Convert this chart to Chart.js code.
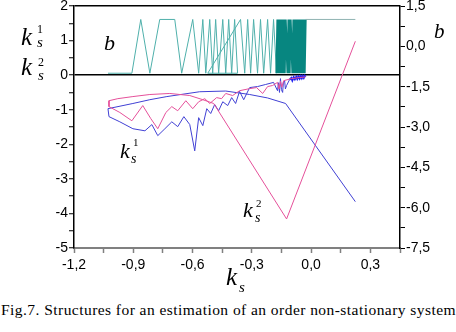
<!DOCTYPE html>
<html>
<head>
<meta charset="utf-8">
<script src="https://cdn.jsdelivr.net/npm/chart.js@4.4.1/dist/chart.umd.min.js"></script>
<style>
  body { margin: 0; background: #fff; }
  #wrap { position: relative; width: 456px; height: 332px; overflow: hidden; font-family: "Liberation Serif", serif; color: #000; }
  #chart { position: absolute; left: 0; top: 0; }
  .lbl { position: absolute; line-height: 1; white-space: nowrap; }
  #caption { position: absolute; left: 1px; top: 302px; font-size: 15.5px; letter-spacing: 0.45px; line-height: 1; white-space: nowrap; }
</style>
</head>
<body>
<div id="wrap">
  <canvas id="chart" width="456" height="280"></canvas>
  <div id="caption">Fig.7. Structures for an estimation of an order non-stationary system</div>
</div>
<script>
// k_s^1 estimate (blue), k_s against k_s^1
const blueX = [0.224, -0.129, -0.220, -0.311, -0.432, -0.564, -0.730, -0.816, -0.902, -1.028,
    -1.023, -0.968, -0.902, -0.841, -0.806, -0.776, -0.740, -0.705, -0.675, -0.644,
    -0.614, -0.589, -0.569, -0.548, -0.528, -0.508, -0.488, -0.468, -0.447, -0.422,
    -0.402, -0.382, -0.362, -0.341, -0.311, -0.271, -0.230, -0.190, -0.170, -0.165,
    -0.160, -0.155, -0.150, -0.144, -0.140, -0.134, -0.130, -0.124, -0.109, -0.100,
    -0.095, -0.088, -0.082, -0.075, -0.070, -0.064, -0.058, -0.052, -0.047, -0.042,
    -0.037, -0.032, -0.028];
const blueY = [-3.66, -0.82, -0.66, -0.56, -0.46, -0.48, -0.62, -0.71, -0.82, -0.97,
    -1.20, -1.35, -1.55, -1.61, -1.43, -1.75, -1.55, -1.35, -1.49, -1.20,
    -1.43, -2.19, -1.23, -1.46, -0.97, -1.11, -0.85, -1.03, -0.77, -0.88,
    -0.65, -0.82, -0.47, -0.71, -0.36, -0.33, -0.27, -0.21, -0.45, -0.22,
    -0.50, -0.10, -0.42, -0.50, -0.20, -0.16, -0.40, -0.30, -0.13, -0.08,
    -0.15, -0.06, -0.12, -0.05, -0.11, -0.04, -0.10, -0.03, -0.09, -0.03,
    -0.08, -0.02, -0.05];

// k_s^2 estimate (pink)
const pinkX = [0.224, -0.124, -0.493, -0.548, -0.614, -0.715, -0.816, -0.902, -0.978, -1.023,
    -1.023, -0.968, -0.907, -0.852, -0.811, -0.776, -0.735, -0.705, -0.675, -0.634,
    -0.599, -0.569, -0.538, -0.513, -0.478, -0.453, -0.432, -0.397, -0.362, -0.311,
    -0.276, -0.245, -0.220, -0.195, -0.170, -0.162, -0.155, -0.148, -0.139, -0.099,
    -0.059, -0.028];
const pinkY = [0.98, -4.16, -0.82, -0.71, -0.59, -0.53, -0.56, -0.62, -0.68, -0.74,
    -0.91, -1.08, -1.32, -0.88, -1.26, -1.55, -1.08, -0.91, -1.03, -0.74,
    -0.97, -0.77, -0.68, -0.82, -0.65, -0.68, -0.53, -0.59, -0.45, -0.39,
    -0.36, -0.53, -0.33, -0.30, -0.21, -0.40, -0.18, -0.35, -0.16, -0.10,
    -0.07, -0.05];

// b (teal, right axis), switching between -1 and 1
const bX = [-1.028, -0.907, -0.862, -0.816, -0.766, -0.690, -0.655, -0.599, -0.569, -0.548,
    -0.533, -0.513, -0.498, -0.483, -0.468, -0.447, -0.432, -0.417, -0.402, -0.387,
    -0.372, -0.523, -0.357, -0.336, -0.321, -0.306, -0.291, -0.271, -0.256, -0.240,
    -0.220, -0.205, -0.190, -0.175,
    -0.170, -0.165, -0.160, -0.155, -0.150, -0.145, -0.139, -0.134, -0.129, -0.119,
    -0.114, -0.109, -0.104, -0.094, -0.089, -0.084, -0.079, -0.073, -0.068, -0.063,
    -0.058, -0.053, -0.048, -0.043, -0.038, -0.033, -0.028, 0.224];
const bY = [-1, -1, 1, -1, 1, 1, -1, 1, -1, 1,
    -1, 1, -1, 1, -1, 1, -1, 1, -1, 1,
    -1, -1, 1, -1, 1, -1, 1, -1, 1, -1,
    1, -1, 1, -1,
    1, -1, 1, -1, 1, -1, 1, -1, 1, -1,
    1, -1, 1, -1, 1, -1, 1, -1, 1, -1,
    1, -1, 1, -1, 1, -1, 1, 1];

// tick labels
const xTickLabels = [-1.2, -0.9, -0.6, -0.3, 0.0, 0.3];
const yLeftLabels = [2, 1, 0, -1, -2, -3, -4, -5];
const yRightLabels = [1.5, 0.0, -1.5, -3.0, -4.5, -6.0, -7.5];

// text pieces: text, font size, left, baseline, italic
const labels = [
    ['k', 25, 21, 45, true], ['1', 12, 37, 33, false], ['s', 15, 37, 48, true],
    ['k', 25, 21, 75, true], ['2', 12, 38, 66, false], ['s', 15, 38, 81, true],
    ['b', 22, 104, 50, true],
    ['b', 21, 434, 39, true],
    ['k', 22, 120, 158, true], ['1', 11, 133, 146, false], ['s', 14, 131, 164, true],
    ['k', 22, 243, 217, true], ['2', 11, 256, 207, false], ['s', 14, 255, 223, true],
    ['k', 25, 226, 285, true], ['s', 15, 239, 293, true]
];

const wrap = document.getElementById('wrap');
labels.forEach(([t, size, left, base, it]) => {
    const span = document.createElement('span');
    span.className = 'lbl';
    span.textContent = t;
    span.style.fontSize = size + 'px';
    span.style.left = left + 'px';
    span.style.top = (base - 0.8375 * size) + 'px';
    span.style.fontStyle = it ? 'italic' : 'normal';
    wrap.appendChild(span);
});

function pts(xs, ys) {
    return xs.map((x, i) => ({ x: x, y: ys[i] }));
}

function comma(v) {
    if (Math.abs(v) < 1e-9) v = 0;
    return v.toFixed(1).replace('.', ',');
}

function isIn(list, v) {
    return list.some(l => Math.abs(l - v) < 1e-6);
}

// the b switching gets very dense near the end, drawn there as a solid band
function inBand(c) {
    return c.p0.parsed.x > -0.18 && c.p1.parsed.x > -0.18 && c.p0.parsed.x < -0.02 && c.p1.parsed.x < -0.02;
}

// blue estimate piles up just under zero at the end
function blueTail(c) {
    return c.p0.parsed.x > -0.115 && c.p1.parsed.x > -0.115 && c.p1.parsed.x < 0;
}

const tickFont = { family: 'Liberation Sans', size: 14 };

new Chart(document.getElementById('chart').getContext('2d'), {
    type: 'scatter',
    data: {
        datasets: [
            {
                data: pts(bX, bY), yAxisID: 'y2',
                showLine: true, borderColor: '#4fb0ab', borderWidth: 1, pointRadius: 0,
                segment: {
                    borderColor: c => inBand(c) ? '#078680' : (c.p0.parsed.x > -0.03 ? '#8fb3b2' : undefined),
                    borderWidth: c => inBand(c) ? 2.2 : undefined
                }
            },
            {
                data: pts(pinkX, pinkY), yAxisID: 'y',
                showLine: true, borderColor: '#e5509a', borderWidth: 1, pointRadius: 0
            },
            {
                data: pts(blueX, blueY), yAxisID: 'y',
                showLine: true, borderColor: '#4040d4', borderWidth: 1, pointRadius: 0,
                segment: {
                    borderColor: c => blueTail(c) ? '#2020f0' : undefined,
                    borderWidth: c => blueTail(c) ? 2 : undefined
                }
            }
        ]
    },
    options: {
        responsive: false,
        animation: false,
        layout: { padding: { top: 6, left: 0, right: 0, bottom: 0 } },
        plugins: { legend: { display: false }, tooltip: { enabled: false } },
        scales: {
            x: {
                type: 'linear', min: -1.2, max: 0.45,
                border: { color: '#808080', width: 2 },
                grid: { drawOnChartArea: false, tickLength: 5, tickColor: '#808080', tickWidth: 1.5 },
                ticks: {
                    stepSize: 0.15, padding: 4, color: '#000', font: tickFont, maxRotation: 0,
                    autoSkip: false,
                    callback: v => isIn(xTickLabels, v) ? comma(v) : ''
                },
                afterFit: s => { s.height = 32; s.paddingLeft = 0; s.paddingRight = 0; }
            },
            y: {
                position: 'left', min: -5, max: 2,
                border: { color: '#000', width: 1.5 },
                grid: {
                    color: c => (c.tick && (c.tick.value === 0 || c.tick.value === 2)) ? '#000' : 'rgba(0,0,0,0)',
                    lineWidth: 1.5, tickLength: 5, tickColor: '#000', tickWidth: 1
                },
                ticks: {
                    stepSize: 0.5, padding: 1, color: '#000', font: tickFont, autoSkip: false,
                    callback: v => isIn(yLeftLabels, v) ? String(v) : ''
                },
                afterFit: s => { s.width = 74; s.paddingTop = 0; s.paddingBottom = 0; }
            },
            y2: {
                position: 'right', min: -7.5, max: 1.5,
                border: { color: '#000', width: 1.5 },
                grid: { drawOnChartArea: false, tickLength: 5, tickColor: '#000', tickWidth: 1 },
                ticks: {
                    stepSize: 0.75, padding: 1, color: '#000', font: tickFont, autoSkip: false,
                    callback: v => isIn(yRightLabels, v) ? comma(v) : ''
                },
                afterFit: s => { s.width = 56; s.paddingTop = 0; s.paddingBottom = 0; }
            }
        }
    }
});
</script>
</body>
</html>
